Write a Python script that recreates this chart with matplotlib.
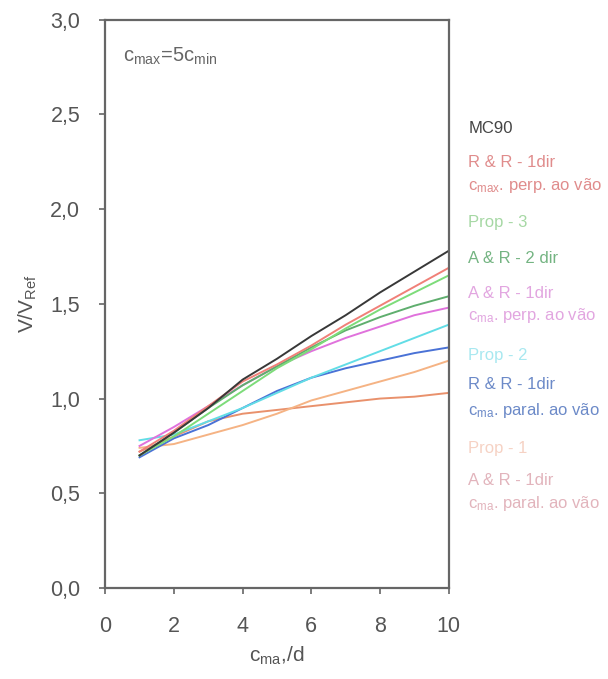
import matplotlib.pyplot as plt
from matplotlib.ticker import FuncFormatter

plt.rcParams['font.family'] = ['Liberation Sans', 'DejaVu Sans']
plt.rcParams['mathtext.default'] = 'regular'

x = [1, 2, 3, 4, 5, 6, 7, 8, 9, 10]

mc90 = [0.70, 0.82, 0.95, 1.10, 1.21, 1.33, 1.44, 1.56, 1.67, 1.78]
rr_perp = [0.72, 0.83, 0.96, 1.09, 1.18, 1.28, 1.39, 1.49, 1.59, 1.69]
prop3 = [0.70, 0.80, 0.92, 1.04, 1.16, 1.26, 1.37, 1.47, 1.56, 1.65]
ar_2dir = [0.70, 0.82, 0.95, 1.07, 1.17, 1.27, 1.36, 1.43, 1.49, 1.54]
ar_perp = [0.75, 0.85, 0.96, 1.07, 1.17, 1.25, 1.32, 1.38, 1.44, 1.48]
prop2 = [0.78, 0.81, 0.88, 0.95, 1.03, 1.11, 1.18, 1.25, 1.32, 1.39]
rr_paral = [0.69, 0.79, 0.86, 0.95, 1.04, 1.11, 1.16, 1.20, 1.24, 1.27]
prop1 = [0.74, 0.76, 0.81, 0.86, 0.92, 0.99, 1.04, 1.09, 1.14, 1.20]
ar_paral = [0.72, 0.80, 0.88, 0.92, 0.94, 0.96, 0.98, 1.00, 1.01, 1.03]

# series drawn back to front
series = [
    (ar_paral, '#e9916c'),
    (prop1, '#f5b384'),
    (rr_paral, '#4a72d6'),
    (prop2, '#62dde6'),
    (ar_perp, '#e072dc'),
    (ar_2dir, '#5fae6e'),
    (prop3, '#7ddc7a'),
    (rr_perp, '#f08078'),
    (mc90, '#383838'),
]

# legend text: (label, colour, y in figure coords)
legend_items = [
    ("MC90", '#444444', 0.811),
    ("R & R - 1dir", '#e08c8c', 0.760),
    ("c$_{max}$. perp. ao vão", '#e08c8c', 0.727),
    ("Prop - 3", '#a6d8a4', 0.673),
    ("A & R - 2 dir", '#74b482', 0.620),
    ("A & R - 1dir", '#e2a6e0', 0.568),
    ("c$_{ma}$. perp. ao vão", '#e2a6e0', 0.536),
    ("Prop - 2", '#a8e8f0', 0.476),
    ("R & R - 1dir", '#6c8ac8', 0.433),
    ("c$_{ma}$. paral. ao vão", '#6c8ac8', 0.395),
    ("Prop - 1", '#f6d2c4', 0.340),
    ("A & R - 1dir", '#e2b4bc', 0.293),
    ("c$_{ma}$. paral. ao vão", '#e2b4bc', 0.258),
]

fig = plt.figure(figsize=(6.08, 6.79), dpi=100)
ax = fig.add_axes([0.173, 0.134, 0.565, 0.837])

for ys, c in series:
    ax.plot(x, ys, color=c, lw=1.4)

ax.set_xlim(0, 10)
ax.set_ylim(0, 3.0)
ax.set_xticks([0, 2, 4, 6, 8, 10])
ax.set_yticks([0, 0.5, 1.0, 1.5, 2.0, 2.5, 3.0])
ax.yaxis.set_major_formatter(FuncFormatter(lambda v, p: f"{v:.1f}".replace('.', ',')))

for s in ax.spines.values():
    s.set_color('#666666')
    s.set_linewidth(1.6)
ax.tick_params(colors='#666666', labelcolor='#555555', labelsize=15.5, length=4, width=1.2)
ax.tick_params(axis='x', pad=16)
ax.tick_params(axis='y', pad=14)

ax.set_xlabel("c$_{ma}$,/d", fontsize=15, color='#555555', labelpad=6)
ax.set_ylabel("V/V$_{Ref}$", fontsize=15, color='#555555', labelpad=8)

ax.text(0.052, 0.955, "c$_{max}$=5c$_{min}$", transform=ax.transAxes,
        fontsize=14.5, color='#666666', va='top')

for label, c, yy in legend_items:
    fig.text(0.770, yy, label, fontsize=12, color=c, va='center')

fig.savefig("out.png", dpi=100)
